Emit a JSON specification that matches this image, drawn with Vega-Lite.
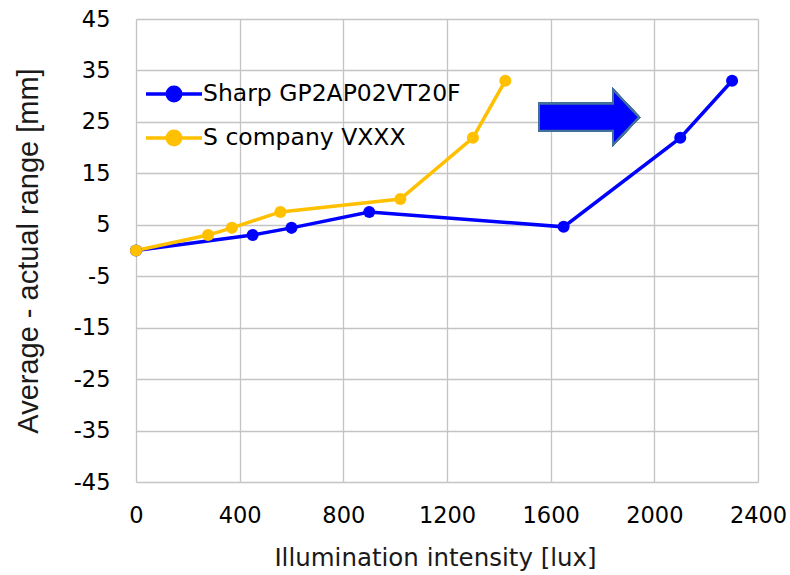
{
  "$schema": "https://vega.github.io/schema/vega-lite/v6.json",
  "width": 622,
  "height": 463,
  "autosize": {"type": "none"},
  "padding": {"left": 136, "top": 19, "right": 32, "bottom": 93},
  "background": "white",
  "config": {
    "view": {"stroke": null},
    "font": "DejaVu Sans",
    "axis": {
      "domain": false,
      "ticks": false,
      "grid": true,
      "gridColor": "#c4c4c4",
      "gridWidth": 1.3,
      "labelFont": "DejaVu Sans",
      "labelFontSize": 22.5,
      "labelColor": "#000000",
      "labelFlush": false,
      "labelBound": false,
      "labelOverlap": false,
      "titleFontWeight": "normal",
      "titleColor": "#1a1a1a"
    }
  },
  "data": {
    "values": [
      {"series": "Sharp GP2AP02VT20F", "lux": 0, "diff": 0},
      {"series": "Sharp GP2AP02VT20F", "lux": 450, "diff": 3.0},
      {"series": "Sharp GP2AP02VT20F", "lux": 600, "diff": 4.4},
      {"series": "Sharp GP2AP02VT20F", "lux": 900, "diff": 7.5},
      {"series": "Sharp GP2AP02VT20F", "lux": 1650, "diff": 4.6},
      {"series": "Sharp GP2AP02VT20F", "lux": 2100, "diff": 21.9},
      {"series": "Sharp GP2AP02VT20F", "lux": 2300, "diff": 33.0},
      {"series": "S company VXXX", "lux": 0, "diff": 0},
      {"series": "S company VXXX", "lux": 278, "diff": 3.0},
      {"series": "S company VXXX", "lux": 370, "diff": 4.4},
      {"series": "S company VXXX", "lux": 557, "diff": 7.5},
      {"series": "S company VXXX", "lux": 1020, "diff": 10.0},
      {"series": "S company VXXX", "lux": 1300, "diff": 21.9},
      {"series": "S company VXXX", "lux": 1425, "diff": 33.0}
    ]
  },
  "layer": [
    {
      "mark": {"type": "line", "strokeWidth": 3.5},
      "encoding": {
        "x": {
          "field": "lux", "type": "quantitative",
          "scale": {"domain": [0, 2400], "nice": false},
          "axis": {"values": [0, 400, 800, 1200, 1600, 2000, 2400], "format": "d", "labelPadding": 22, "title": "Illumination intensity [lux]", "titleFont": "DejaVu Sans", "titleFontSize": 24.5, "titlePadding": 20, "titleX": 299, "titleAlign": "center"}
        },
        "y": {
          "field": "diff", "type": "quantitative",
          "scale": {"domain": [-45, 45], "nice": false},
          "axis": {"values": [-45, -35, -25, -15, -5, 5, 15, 25, 35, 45], "labelExpr": "datum.value < 0 ? '-' + abs(datum.value) : '' + datum.value", "labelPadding": 26, "title": "Average - actual range [mm]", "titleFont": "Liberation Sans", "titleFontSize": 29, "titlePadding": 30}
        },
        "color": {
          "field": "series", "type": "nominal",
          "scale": {"domain": ["Sharp GP2AP02VT20F", "S company VXXX"], "range": ["#0000ff", "#ffc000"]},
          "legend": {
            "title": null,
            "orient": "none",
            "legendX": 8,
            "legendY": 45,
            "padding": 0,
            "symbolType": "M-1,0H1M-0.24,0A0.24,0.24,0,1,1,0.24,0A0.24,0.24,0,1,1,-0.24,0Z",
            "symbolSize": 3136,
            "symbolStrokeWidth": 3.5,
            "rowPadding": -15,
            "labelFont": "DejaVu Sans",
            "labelFontSize": 23.5,
            "labelColor": "#000000",
            "labelOffset": -1,
            "labelLimit": 400,
            "encode": {
              "symbols": {
                "update": {
                  "fill": {"scale": "color", "field": "value"},
                  "stroke": {"scale": "color", "field": "value"},
                  "opacity": {"value": 1}
                }
              }
            }
          }
        },
        "order": {"field": "lux", "type": "quantitative"}
      }
    },
    {
      "mark": {"type": "point", "filled": true, "size": 145, "opacity": 1},
      "encoding": {
        "x": {"field": "lux", "type": "quantitative"},
        "y": {"field": "diff", "type": "quantitative"},
        "color": {"field": "series", "type": "nominal", "legend": null}
      }
    },
    {
      "mark": {
        "type": "point",
        "shape": "M-1,-0.27L0.48,-0.27L0.48,-0.55L1,0L0.48,0.55L0.48,0.27L-1,0.27Z",
        "size": 10000,
        "filled": true,
        "fill": "#0000ff",
        "stroke": "#41719c",
        "strokeWidth": 2,
        "opacity": 1
      },
      "encoding": {
        "x": {"datum": 1748},
        "y": {"datum": 25.9}
      }
    }
  ]
}
